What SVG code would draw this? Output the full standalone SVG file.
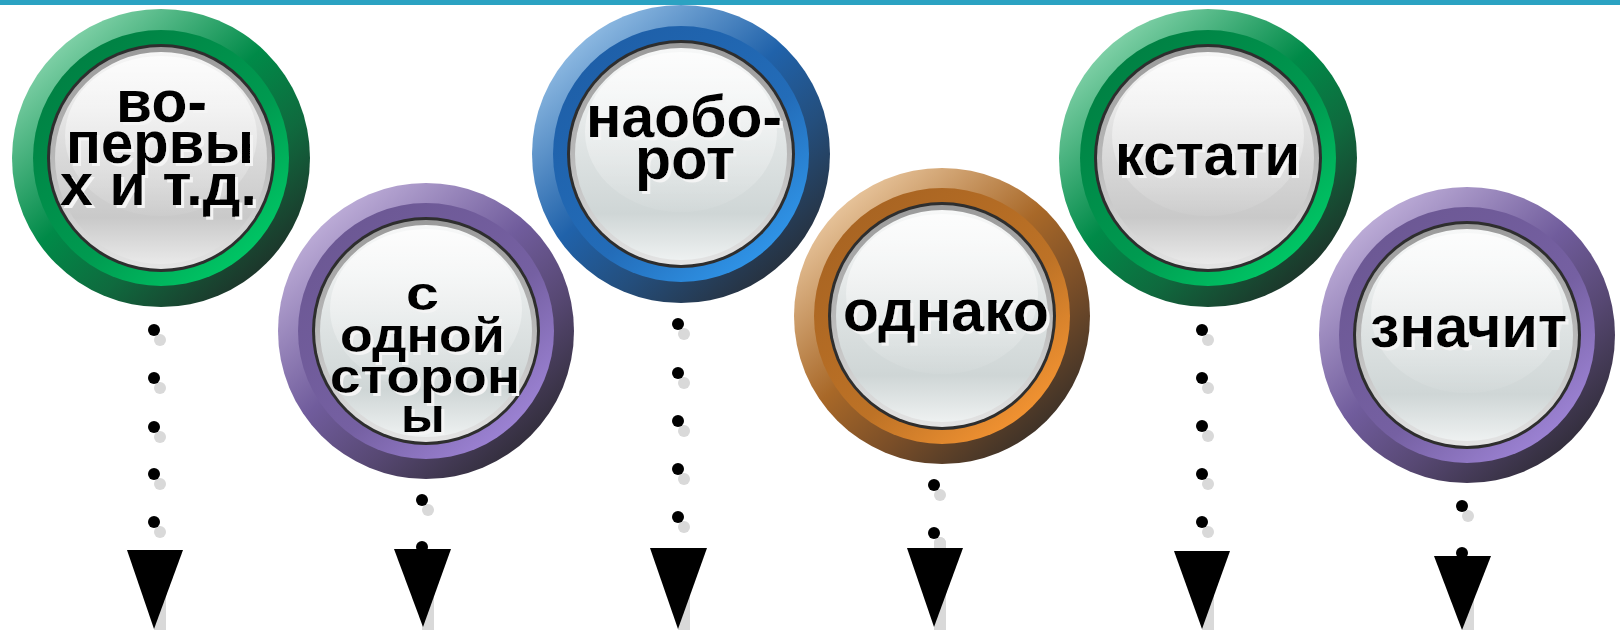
<svg xmlns="http://www.w3.org/2000/svg" width="1620" height="630" viewBox="0 0 1620 630">
<defs>
<linearGradient id="oG" x1="0.15" y1="0.1" x2="0.85" y2="0.9"><stop offset="0" stop-color="#86d4ac"/><stop offset="0.45" stop-color="#008a48"/><stop offset="0.7" stop-color="#0f6a3e"/><stop offset="1" stop-color="#1e3129"/></linearGradient>
<linearGradient id="mG" x1="0.15" y1="0.1" x2="0.85" y2="0.9"><stop offset="0" stop-color="#008043"/><stop offset="0.6" stop-color="#009a50"/><stop offset="1" stop-color="#00c866"/></linearGradient>
<linearGradient id="oP" x1="0.15" y1="0.1" x2="0.85" y2="0.9"><stop offset="0" stop-color="#c0b0da"/><stop offset="0.45" stop-color="#705c9c"/><stop offset="0.7" stop-color="#574873"/><stop offset="1" stop-color="#302c38"/></linearGradient>
<linearGradient id="mP" x1="0.15" y1="0.1" x2="0.85" y2="0.9"><stop offset="0" stop-color="#6c5894"/><stop offset="0.6" stop-color="#7560a2"/><stop offset="1" stop-color="#9e84d6"/></linearGradient>
<linearGradient id="oB" x1="0.15" y1="0.1" x2="0.85" y2="0.9"><stop offset="0" stop-color="#92bde4"/><stop offset="0.45" stop-color="#2062aa"/><stop offset="0.7" stop-color="#244e7c"/><stop offset="1" stop-color="#272f3a"/></linearGradient>
<linearGradient id="mB" x1="0.15" y1="0.1" x2="0.85" y2="0.9"><stop offset="0" stop-color="#1e5fa8"/><stop offset="0.6" stop-color="#236cb8"/><stop offset="1" stop-color="#3096ea"/></linearGradient>
<linearGradient id="oO" x1="0.15" y1="0.1" x2="0.85" y2="0.9"><stop offset="0" stop-color="#eac8a0"/><stop offset="0.45" stop-color="#a86828"/><stop offset="0.7" stop-color="#7a4e28"/><stop offset="1" stop-color="#3a3028"/></linearGradient>
<linearGradient id="mO" x1="0.15" y1="0.1" x2="0.85" y2="0.9"><stop offset="0" stop-color="#a86422"/><stop offset="0.6" stop-color="#bd7226"/><stop offset="1" stop-color="#f49432"/></linearGradient>
<linearGradient id="ringGray" x1="0" y1="0" x2="0" y2="1"><stop offset="0" stop-color="#9a9a9a"/><stop offset="0.5" stop-color="#b8b8b8"/><stop offset="1" stop-color="#e4e4e4"/></linearGradient>
<linearGradient id="lensN" x1="0" y1="0" x2="0" y2="1"><stop offset="0" stop-color="#f6f6f6"/><stop offset="0.5" stop-color="#d9d9d9"/><stop offset="0.78" stop-color="#c9c9c9"/><stop offset="1" stop-color="#e9e9e9"/></linearGradient>
<linearGradient id="lensC" x1="0" y1="0" x2="0" y2="1"><stop offset="0" stop-color="#f7f8f8"/><stop offset="0.5" stop-color="#dde2e2"/><stop offset="0.78" stop-color="#cfd6d6"/><stop offset="1" stop-color="#eef1f1"/></linearGradient>
<linearGradient id="hl" x1="0" y1="0" x2="0" y2="1"><stop offset="0" stop-color="#ffffff" stop-opacity="0.7"/><stop offset="1" stop-color="#ffffff" stop-opacity="0.05"/></linearGradient>
<filter id="tsh" x="-10%" y="-20%" width="130%" height="150%">
  <feOffset in="SourceAlpha" dx="3" dy="3" result="off"/>
  <feFlood flood-color="#f4f4f4" result="fl"/>
  <feComposite in="fl" in2="off" operator="in" result="shadow"/>
  <feMerge><feMergeNode in="shadow"/><feMergeNode in="SourceGraphic"/></feMerge>
</filter>
<style>
.t{font-family:"Liberation Sans",Arial,sans-serif;font-weight:bold;text-anchor:middle;fill:#000}
.lbl{filter:url(#tsh)}
.dark{fill:#2e2e2e}
.gray{fill:url(#ringGray)}
.dot{fill:#000}
.sh{fill:#d9d9d9}
.shl{stroke:#d9d9d9;stroke-width:12;stroke-linecap:round;fill:none}
.arr{fill:#000}
</style>
</defs>
<rect x="0" y="0" width="1620" height="630" fill="#ffffff"/>
<rect x="0" y="0" width="1620" height="5" fill="#2ba2c2"/>

<g id="connectors">
  <g id="c1">
    <circle class="sh" cx="160" cy="340" r="6"/><circle class="sh" cx="160" cy="388" r="6"/><circle class="sh" cx="160" cy="437" r="6"/><circle class="sh" cx="160" cy="484" r="6"/><circle class="sh" cx="160" cy="532" r="6"/>
    <line class="shl" x1="160" y1="575" x2="160" y2="640"/>
    <circle class="dot" cx="154" cy="330" r="6"/><circle class="dot" cx="154" cy="378" r="6"/><circle class="dot" cx="154" cy="427" r="6"/><circle class="dot" cx="154" cy="474" r="6"/><circle class="dot" cx="154" cy="522" r="6"/>
    <polygon class="arr" points="127,550 183,550 154,629"/>
  </g>
  <g id="c2">
    <circle class="sh" cx="428" cy="510" r="6"/><circle class="sh" cx="428" cy="557" r="6"/>
    <line class="shl" x1="428" y1="575" x2="428" y2="640"/>
    <circle class="dot" cx="422" cy="500" r="6"/><circle class="dot" cx="422" cy="547" r="6"/>
    <polygon class="arr" points="394,549 451,549 423,627"/>
  </g>
  <g id="c3">
    <circle class="sh" cx="684" cy="334" r="6"/><circle class="sh" cx="684" cy="383" r="6"/><circle class="sh" cx="684" cy="431" r="6"/><circle class="sh" cx="684" cy="479" r="6"/><circle class="sh" cx="684" cy="527" r="6"/>
    <line class="shl" x1="684" y1="575" x2="684" y2="640"/>
    <circle class="dot" cx="678" cy="324" r="6"/><circle class="dot" cx="678" cy="373" r="6"/><circle class="dot" cx="678" cy="421" r="6"/><circle class="dot" cx="678" cy="469" r="6"/><circle class="dot" cx="678" cy="517" r="6"/>
    <polygon class="arr" points="650,548 707,548 678,629"/>
  </g>
  <g id="c4">
    <circle class="sh" cx="940" cy="495" r="6"/><circle class="sh" cx="940" cy="543" r="6"/>
    <line class="shl" x1="940" y1="543" x2="940" y2="640"/>
    <circle class="dot" cx="934" cy="485" r="6"/><circle class="dot" cx="934" cy="533" r="6"/>
    <polygon class="arr" points="907,548 963,548 934,627"/>
  </g>
  <g id="c5">
    <circle class="sh" cx="1208" cy="340" r="6"/><circle class="sh" cx="1208" cy="388" r="6"/><circle class="sh" cx="1208" cy="436" r="6"/><circle class="sh" cx="1208" cy="484" r="6"/><circle class="sh" cx="1208" cy="532" r="6"/>
    <line class="shl" x1="1208" y1="575" x2="1208" y2="640"/>
    <circle class="dot" cx="1202" cy="330" r="6"/><circle class="dot" cx="1202" cy="378" r="6"/><circle class="dot" cx="1202" cy="426" r="6"/><circle class="dot" cx="1202" cy="474" r="6"/><circle class="dot" cx="1202" cy="522" r="6"/>
    <polygon class="arr" points="1174,551 1230,551 1202,629"/>
  </g>
  <g id="c6">
    <circle class="sh" cx="1468" cy="516" r="6"/><circle class="sh" cx="1468" cy="563" r="6"/>
    <line class="shl" x1="1468" y1="575" x2="1468" y2="640"/>
    <circle class="dot" cx="1462" cy="506" r="6"/><circle class="dot" cx="1462" cy="553" r="6"/>
    <polygon class="arr" points="1434,556 1491,556 1462,630"/>
  </g>
</g>

<g id="node1" transform="translate(161,158)">
  <circle r="149" fill="url(#oG)"/><circle r="128" fill="url(#mG)"/><circle r="114" class="dark"/><circle r="111" class="gray"/><circle r="106" fill="url(#lensN)"/>
  <ellipse cx="0" cy="-22" rx="96" ry="80" fill="url(#hl)"/>
  <g class="lbl" font-size="60">
    <text class="t" x="0.5" y="-36" textLength="91" lengthAdjust="spacingAndGlyphs">во-</text>
    <text class="t" x="-1" y="5" textLength="188" lengthAdjust="spacingAndGlyphs">первы</text>
    <text class="t" x="-2.5" y="47" textLength="197" lengthAdjust="spacingAndGlyphs">х и т.д.</text>
  </g>
</g>

<g id="node2" transform="translate(426,331)">
  <circle r="148" fill="url(#oP)"/><circle r="128" fill="url(#mP)"/><circle r="114" class="dark"/><circle r="111" class="gray"/><circle r="106" fill="url(#lensC)"/>
  <ellipse cx="0" cy="-22" rx="96" ry="80" fill="url(#hl)"/>
  <g class="lbl" font-size="49">
    <text class="t" x="-3.5" y="-21" textLength="33" lengthAdjust="spacingAndGlyphs">с</text>
    <text class="t" x="-3.5" y="21" textLength="165" lengthAdjust="spacingAndGlyphs">одной</text>
    <text class="t" x="-1" y="62" textLength="190" lengthAdjust="spacingAndGlyphs">сторон</text>
    <text class="t" x="-3" y="101" textLength="44" lengthAdjust="spacingAndGlyphs">ы</text>
  </g>
</g>

<g id="node3" transform="translate(681,154)">
  <circle r="149" fill="url(#oB)"/><circle r="128" fill="url(#mB)"/><circle r="114" class="dark"/><circle r="111" class="gray"/><circle r="106" fill="url(#lensC)"/>
  <ellipse cx="0" cy="-22" rx="96" ry="80" fill="url(#hl)"/>
  <g class="lbl" font-size="59">
    <text class="t" x="3" y="-17" textLength="196" lengthAdjust="spacingAndGlyphs">наобо-</text>
    <text class="t" x="4" y="25" textLength="100" lengthAdjust="spacingAndGlyphs">рот</text>
  </g>
</g>

<g id="node4" transform="translate(942,316)">
  <circle r="148" fill="url(#oO)"/><circle r="128" fill="url(#mO)"/><circle r="114" class="dark"/><circle r="111" class="gray"/><circle r="106" fill="url(#lensC)"/>
  <ellipse cx="0" cy="-22" rx="96" ry="80" fill="url(#hl)"/>
  <g class="lbl" font-size="59">
    <text class="t" x="4" y="15" textLength="206" lengthAdjust="spacingAndGlyphs">однако</text>
  </g>
</g>

<g id="node5" transform="translate(1208,158)">
  <circle r="149" fill="url(#oG)"/><circle r="128" fill="url(#mG)"/><circle r="114" class="dark"/><circle r="111" class="gray"/><circle r="106" fill="url(#lensN)"/>
  <ellipse cx="0" cy="-22" rx="96" ry="80" fill="url(#hl)"/>
  <g class="lbl" font-size="59">
    <text class="t" x="-0.5" y="17" textLength="185" lengthAdjust="spacingAndGlyphs">кстати</text>
  </g>
</g>

<g id="node6" transform="translate(1467,335)">
  <circle r="148" fill="url(#oP)"/><circle r="128" fill="url(#mP)"/><circle r="114" class="dark"/><circle r="111" class="gray"/><circle r="106" fill="url(#lensC)"/>
  <ellipse cx="0" cy="-22" rx="96" ry="80" fill="url(#hl)"/>
  <g class="lbl" font-size="59">
    <text class="t" x="1.5" y="12" textLength="197" lengthAdjust="spacingAndGlyphs">значит</text>
  </g>
</g>
</svg>
